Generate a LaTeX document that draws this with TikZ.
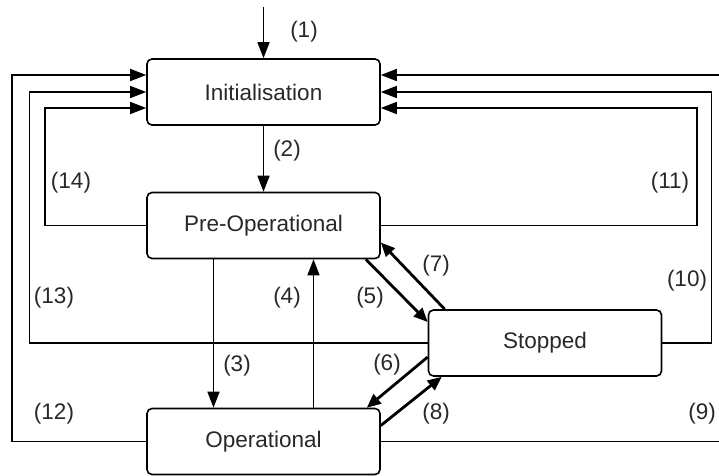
\documentclass[tikz,border=0pt]{standalone}
\usepackage{fontspec}
\setmainfont{Liberation Sans}
\usetikzlibrary{arrows.meta}
\definecolor{labelgray}{RGB}{40,40,40}

\begin{document}
\begin{tikzpicture}[x=1pt,y=-1pt,
    statebox/.style={draw,line width=1.6pt,rounded corners=5pt,
      minimum width=233pt,minimum height=66pt,inner sep=0pt,
      font=\fontsize{22.5}{27}\selectfont,text=labelgray},
    numlabel/.style={font=\fontsize{22.5}{27}\selectfont,text=labelgray,inner sep=0pt},
    link/.style={line width=1.5pt,-{Triangle[length=16pt,width=12pt]}},
    fatlink/.style={line width=2.8pt,-{Triangle[length=14pt,width=12pt]}}]
  \useasboundingbox (0,0) rectangle (719,475);
  \clip (0,0) rectangle (719,475);

  % States
  \node[statebox] (init) at (263.5,92) {Initialisation};
  \node[statebox] (preop) at (263.5,225.5) {Pre-Operational};
  \node[statebox] (op) at (263.5,441.5) {Operational};
  \node[statebox] (stop) at (545,343) {Stopped};
  \coordinate (entry) at (263.5,7);

  % Main line down
  \draw[link] (entry) -- (init.north);
  \draw[link] (init.south) -- (preop.north);
  \draw[link] ([shift={(-50,0)}]preop.south) -- ([shift={(-50,0)}]op.north);
  \draw[link] ([shift={(50,0)}]op.north) -- ([shift={(50,0)}]preop.south);

  % To and from Stopped
  \draw[fatlink] ([shift={(-15,0)}]preop.south east) -- ([shift={(0,-21)}]stop.west);
  \draw[fatlink] ([shift={(17,0)}]stop.north west) -- ([shift={(0,17)}]preop.east);
  \draw[fatlink] ([shift={(0,14)}]stop.west) -- ([shift={(-14,0)}]op.north east);
  \draw[fatlink] ([shift={(0,-16)}]op.east) -- ([shift={(14,0)}]stop.south west);

  % Back to Initialisation, left side
  \draw[link] (op.west) -- ++(-134,0) |- ([shift={(0,-17)}]init.west);
  \draw[link] (stop.west) -- ++(-398,0) |- (init.west);
  \draw[link] (preop.west) -- ++(-101,0) |- ([shift={(0,16)}]init.west);

  % Back to Initialisation, right side
  \draw[link] (op.east) -- ++(342,0) |- ([shift={(0,-17)}]init.east);
  \draw[link] (stop.east) -- ++(49,0) |- (init.east);
  \draw[link] (preop.east) -- ++(316,0) |- ([shift={(0,16)}]init.east);

  % Transition numbers
  \node[numlabel] (n1) at (304,32) {(1)};
  \node[numlabel] (n2) at (287,151) {(2)};
  \node[numlabel] (n3) at (237,366) {(3)};
  \node[numlabel] (n4) at (287,298) {(4)};
  \node[numlabel] (n5) at (370,298) {(5)};
  \node[numlabel] (n6) at (387,365) {(6)};
  \node[numlabel] (n7) at (436,266) {(7)};
  \node[numlabel] (n8) at (436,414) {(8)};
  \node[numlabel] (n9) at (702,414) {(9)};
  \node[numlabel] (n10) at (687,281) {(10)};
  \node[numlabel] (n11) at (670,183) {(11)};
  \node[numlabel] (n12) at (54,414) {(12)};
  \node[numlabel] (n13) at (54,298) {(13)};
  \node[numlabel] (n14) at (71,183) {(14)};
\end{tikzpicture}
\end{document}
